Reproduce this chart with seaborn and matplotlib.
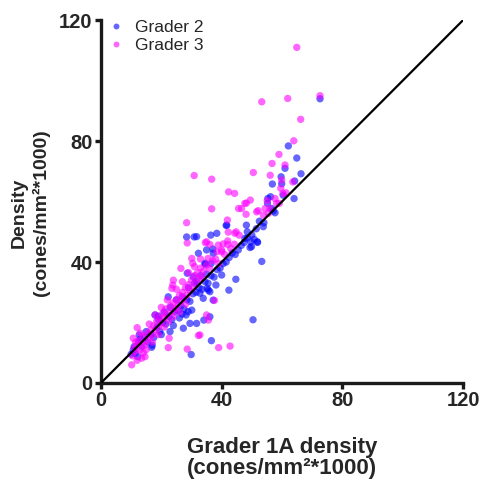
"""Grader agreement scatter: Grader 2 / Grader 3 cone density vs Grader 1A."""
import pandas as pd
import matplotlib

matplotlib.use("Agg")
import matplotlib.pyplot as plt  # noqa: E402
import seaborn as sns  # noqa: E402

sns.set_style("ticks")
plt.rcParams["font.family"] = ["Liberation Sans", "DejaVu Sans"]

# Values (cones/mm^2 * 1000)
grader2_x = [
    72.6, 62.1, 64.9, 61.0, 66.3, 59.7, 56.8, 59.9, 64.2, 60.4, 64.0, 56.2,
    55.2, 56.6, 57.1, 57.7, 55.3, 53.8, 48.2, 41.7, 48.5, 50.8, 51.8, 49.9,
    49.4, 53.3, 44.7, 42.4, 38.4, 36.4, 28.4, 30.9, 31.7, 37.1, 37.2, 32.3,
    34.5, 35.0, 34.5, 36.5, 40.0, 38.1, 35.6, 36.1, 35.2, 28.6, 30.6, 31.7,
    22.3, 32.8, 33.9, 37.2, 30.1, 28.9, 17.9, 19.0, 26.9, 28.2, 36.1, 34.1,
    50.4, 36.6, 29.9, 27.3, 29.5, 31.7, 12.7, 22.9, 16.8, 10.7, 11.3, 12.2,
    41.5, 47.7, 49.7, 51.9,
    10.0, 11.0, 12.5, 13.5, 14.5, 15.5, 16.5, 17.5, 18.5, 19.5, 20.5, 21.5,
    22.5, 23.5, 24.5, 25.5, 26.5, 27.5, 28.5, 29.5, 30.5, 31.5, 32.5, 33.5,
    34.5, 35.5, 36.5, 37.5, 38.5, 39.5, 40.5, 41.5, 42.5, 43.5, 44.5, 45.5,
    46.5, 47.5, 48.5, 50.0, 51.5, 52.5, 54.0, 19.0, 21.0, 23.0, 25.0, 27.0,
    29.0, 31.0, 33.0, 35.0, 24.0, 26.0, 20.0, 17.0, 15.0, 13.0,
]
grader2_y = [
    94.0, 78.4, 74.4, 71.0, 69.2, 68.2, 65.8, 65.9, 66.8, 62.1, 61.0, 61.6,
    59.4, 57.7, 56.9, 56.3, 61.0, 51.7, 52.2, 52.2, 48.0, 47.5, 46.7, 45.1,
    44.8, 40.2, 34.3, 30.7, 49.5, 48.9, 48.3, 48.3, 48.4, 44.3, 42.9, 42.9,
    39.6, 44.0, 39.3, 39.5, 35.7, 32.4, 30.7, 30.2, 31.3, 36.3, 35.1, 33.5,
    28.5, 29.7, 28.0, 27.4, 24.1, 23.6, 22.5, 22.1, 22.8, 22.5, 21.9, 20.8,
    20.9, 14.0, 9.4, 18.1, 19.7, 19.7, 15.9, 17.0, 11.8, 10.9, 9.8, 8.7,
    52.1, 47.8, 46.7, 46.5,
    9.5, 12.0, 13.5, 12.0, 15.0, 13.5, 16.0, 15.0, 18.5, 17.0, 20.0, 19.5,
    22.0, 21.0, 23.5, 24.0, 25.5, 24.5, 27.5, 27.0, 29.5, 30.0, 31.5, 31.0,
    33.5, 33.0, 35.5, 35.0, 37.5, 38.0, 39.5, 40.0, 41.5, 43.0, 42.5, 44.0,
    45.5, 46.5, 50.0, 49.0, 51.0, 53.5, 53.0, 21.0, 23.5, 25.0, 27.5, 28.5,
    31.5, 33.0, 35.5, 36.0, 19.0, 21.5, 16.0, 12.5, 17.0, 14.5,
]

grader3_x = [
    64.9, 53.3, 61.9, 72.6, 66.2, 63.9, 59.0, 56.7, 61.0, 50.5, 56.1, 36.7,
    30.9, 59.9, 63.6, 42.3, 44.3, 59.6, 60.3, 61.3, 57.7, 55.1, 49.5, 48.2,
    58.2, 59.1, 36.7, 45.6, 47.7, 52.1, 54.4, 56.0, 46.6, 53.8, 55.5, 48.1,
    51.6, 28.4, 41.9, 42.2, 44.4, 44.8, 45.8, 28.6, 34.6, 36.1, 35.0, 38.9,
    40.5, 42.0, 44.2, 38.4, 40.0, 26.5, 30.1, 30.4, 33.0, 35.5, 24.0, 23.8,
    23.5, 37.6, 35.0, 35.6, 32.8, 32.3, 39.0, 42.8, 28.6, 22.3, 22.6, 12.0,
    10.7, 10.2, 13.5, 14.6,
    10.5, 11.0, 11.5, 12.0, 12.5, 13.0, 13.5, 14.0, 14.5, 15.0, 15.5, 16.0,
    16.5, 17.0, 17.5, 18.0, 18.5, 19.0, 19.5, 20.0, 20.5, 21.0, 21.5, 22.0,
    22.5, 23.0, 23.5, 24.0, 24.5, 25.0, 25.5, 26.0, 26.5, 27.0, 27.5, 28.0,
    28.5, 29.0, 29.5, 30.0, 30.5, 31.0, 31.5, 32.0, 32.5, 33.0, 33.5, 34.0,
    35.0, 36.0, 37.0, 38.0, 39.0, 40.0, 41.0, 42.0, 43.0, 15.0, 17.0, 19.0,
    21.0, 24.0, 26.0, 28.0, 18.0, 20.0, 22.0, 25.0, 27.0, 29.0, 31.0, 16.0,
    13.0, 11.5, 14.0, 12.0,
]
grader3_y = [
    111.0, 93.0, 94.1, 95.0, 87.2, 80.1, 75.6, 72.6, 72.1, 69.6, 68.7, 67.4,
    68.6, 67.1, 66.5, 63.2, 62.7, 64.4, 62.7, 62.9, 61.0, 60.3, 60.5, 59.5,
    59.4, 59.4, 57.6, 57.7, 59.4, 57.0, 57.7, 57.7, 57.7, 55.5, 56.1, 55.8,
    56.6, 53.0, 53.9, 49.9, 49.5, 50.0, 48.9, 46.3, 46.4, 45.8, 46.7, 45.6,
    46.0, 45.8, 45.9, 43.4, 43.4, 37.9, 41.2, 39.6, 41.0, 41.2, 34.0, 32.4,
    31.3, 27.3, 22.5, 20.8, 15.9, 15.7, 11.7, 12.2, 11.2, 11.7, 14.8, 18.3,
    14.8, 6.0, 8.2, 8.7,
    9.0, 11.5, 10.5, 12.5, 14.0, 11.0, 13.0, 15.5, 12.5, 14.0, 16.5, 15.0,
    17.5, 16.0, 19.0, 17.5, 20.5, 18.5, 21.5, 20.0, 23.0, 21.5, 24.5, 22.5,
    20.5, 25.5, 23.5, 26.5, 24.5, 27.5, 25.5, 29.0, 27.0, 30.0, 28.0, 31.5,
    29.0, 32.5, 30.5, 34.0, 31.5, 35.5, 33.0, 36.5, 34.5, 38.0, 35.0, 37.0,
    39.0, 38.0, 40.5, 41.0, 39.5, 44.0, 42.5, 47.0, 44.5, 11.0, 13.5, 16.0,
    18.5, 22.0, 23.5, 26.0, 22.5, 25.0, 27.5, 31.0, 33.5, 36.5, 38.5, 19.5,
    16.5, 13.5, 10.0, 7.5,
]

df = pd.concat(
    [
        pd.DataFrame({"x": grader2_x, "y": grader2_y, "grader": "Grader 2"}),
        pd.DataFrame({"x": grader3_x, "y": grader3_y, "grader": "Grader 3"}),
    ],
    ignore_index=True,
)

fig = plt.figure(figsize=(4.9, 4.87), dpi=100)
ax = fig.add_axes([0.206, 0.2136, 0.739, 0.745])

sns.scatterplot(
    data=df, x="x", y="y", hue="grader",
    palette={"Grader 2": "#0000ff", "Grader 3": "#ff00ff"},
    s=28, alpha=0.6, linewidth=0, ax=ax,
)
# identity line
ax.plot([0, 120], [0, 120], color="black", lw=1.6, zorder=3)

ax.set_xlim(0, 120)
ax.set_ylim(0, 120)
ax.set_xticks([0, 40, 80, 120])
ax.set_yticks([0, 40, 80, 120])
for side in ("top", "right"):
    ax.spines[side].set_visible(False)
for side in ("left", "bottom"):
    ax.spines[side].set_linewidth(2.4)
    ax.spines[side].set_color("#1a1a1a")
ax.tick_params(length=4, width=2.4, color="#1a1a1a", labelsize=14.5, pad=2)
for lbl in ax.get_xticklabels() + ax.get_yticklabels():
    lbl.set_fontweight("bold")

ax.set_xlabel("Grader 1A density\n(cones/mm²*1000)", fontsize=16,
              fontweight="bold", linespacing=1.0)
ax.set_ylabel("Density\n(cones/mm²*1000)", fontsize=14,
              fontweight="bold", linespacing=1.3)
ax.xaxis.set_label_coords(0.5, -0.15)
ax.yaxis.set_label_coords(-0.141, 0.47)

ax.legend(loc="upper left", bbox_to_anchor=(-0.036, 1.03), frameon=False,
          fontsize=12.5, markerscale=0.8, handletextpad=0.1,
          labelspacing=0.2, borderaxespad=0.2)

fig.savefig("out.png", dpi=100)
